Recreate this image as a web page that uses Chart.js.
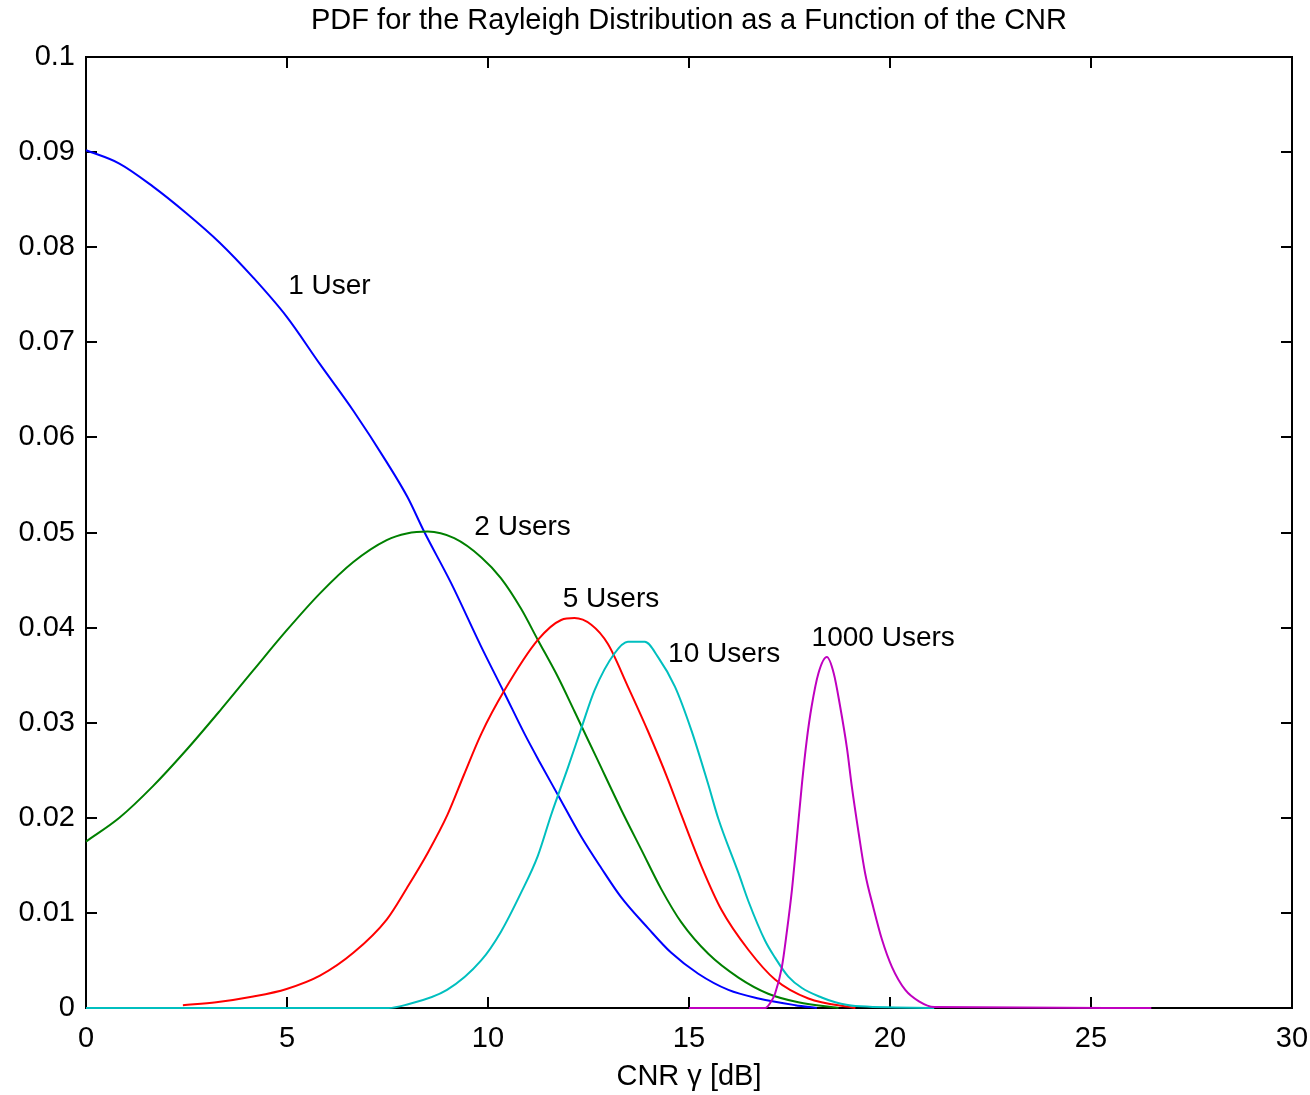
<!DOCTYPE html>
<html>
<head>
<meta charset="utf-8">
<script src="https://cdn.jsdelivr.net/npm/chart.js@4.4.1/dist/chart.umd.min.js"></script>
<style>
  html, body { margin: 0; padding: 0; background: #ffffff; }
  #wrap { width: 1310px; height: 1095px; }
</style>
</head>
<body>
<div id="wrap"><canvas id="c" width="1310" height="1095"></canvas></div>
<script>
// ---- Data ----
const titleText = 'PDF for the Rayleigh Distribution as a Function of the CNR';
const xAxisTitle = 'CNR \u03b3 [dB]';
const yTickLabels = ['0', '0.01', '0.02', '0.03', '0.04', '0.05', '0.06', '0.07', '0.08', '0.09', '0.1'];
const xTickLabels = ['0', '5', '10', '15', '20', '25', '30'];

const seriesNames = ['1 User', '2 Users', '5 Users', '10 Users', '1000 Users'];

const user1X = [0, 0.83, 1.66, 2.49, 3.32, 4.16, 4.99, 5.82, 6.65, 7.48, 8.0, 8.41, 9.08, 9.83, 10.41, 10.9, 11.28, 11.74, 12.32, 12.82, 13.32, 13.98, 14.56, 15.23, 15.98, 16.73, 17.64, 18.18];
const user1Y = [0.0902, 0.0888, 0.0864, 0.0836, 0.0805, 0.0768, 0.0727, 0.0677, 0.0628, 0.0574, 0.0537, 0.0501, 0.0447, 0.0380, 0.0331, 0.0289, 0.0259, 0.0224, 0.0180, 0.0147, 0.0116, 0.0084, 0.0058, 0.0036, 0.0019, 0.0010, 0.0003, 0.0000];

const user2X = [0, 0.83, 1.66, 2.49, 3.32, 4.16, 4.99, 5.82, 6.65, 7.48, 7.98, 8.5, 9.16, 9.83, 10.32, 10.82, 11.24, 11.74, 12.15, 12.69, 13.32, 13.82, 14.31, 14.81, 15.48, 16.23, 16.97, 17.72, 18.72];
const user2Y = [0.0175, 0.0200, 0.0233, 0.0271, 0.0312, 0.0355, 0.0397, 0.0436, 0.0469, 0.0492, 0.0499, 0.0501, 0.0494, 0.0474, 0.0452, 0.0420, 0.0387, 0.0348, 0.0312, 0.0264, 0.0208, 0.0166, 0.0125, 0.0090, 0.0057, 0.0032, 0.0015, 0.0006, 0.0000];

const user5X = [2.41, 3.24, 4.16, 4.99, 5.82, 6.65, 7.48, 7.98, 8.5, 8.99, 9.4, 9.83, 10.41, 11.24, 11.82, 12.15, 12.57, 12.98, 13.48, 13.98, 14.48, 14.81, 15.31, 15.81, 16.48, 17.14, 17.97, 19.14];
const user5Y = [0.0003, 0.0006, 0.0012, 0.0020, 0.0034, 0.0058, 0.0093, 0.0126, 0.0163, 0.0203, 0.0245, 0.0288, 0.0334, 0.0387, 0.0408, 0.0410, 0.0403, 0.0383, 0.0338, 0.0291, 0.0240, 0.0203, 0.0149, 0.0103, 0.0061, 0.0030, 0.0010, 0.0000];

const user10X = [0, 7.53, 7.93, 8.98, 9.83, 10.32, 10.82, 11.24, 11.57, 11.99, 12.32, 12.65, 13.15, 13.48, 13.9, 14.23, 14.65, 15.06, 15.48, 15.73, 16.23, 16.48, 16.89, 17.14, 17.47, 17.81, 18.3, 18.64, 19.14, 21.1];
const user10Y = [0, 0, 0.0003, 0.0019, 0.0050, 0.0080, 0.0121, 0.0160, 0.0203, 0.0253, 0.0294, 0.0334, 0.0373, 0.0385, 0.0385, 0.0369, 0.0338, 0.0292, 0.0235, 0.0199, 0.0142, 0.0112, 0.0071, 0.0053, 0.0033, 0.0021, 0.0011, 0.0006, 0.0002, 0];

const user1000X = [15.0, 16.9, 17.06, 17.14, 17.31, 17.43, 17.56, 17.68, 17.81, 17.93, 18.05, 18.22, 18.43, 18.6, 18.76, 18.93, 19.05, 19.22, 19.38, 19.59, 19.8, 20.05, 20.38, 20.72, 21.1, 26.5];
const user1000Y = [0, 0, 0.0008, 0.0015, 0.0043, 0.0079, 0.0124, 0.0177, 0.0236, 0.0282, 0.0317, 0.0352, 0.0369, 0.0352, 0.0317, 0.0273, 0.0233, 0.0184, 0.0142, 0.0105, 0.0072, 0.0043, 0.0019, 0.0007, 0.0001, 0];

// in-plot text labels (data coordinates of left edge / vertical middle)
const labelTexts = ['1 User', '2 Users', '5 Users', '10 Users', '1000 Users'];
const labelX = [5.03, 9.66, 11.86, 14.48, 18.05];
const labelY = [0.0760, 0.0507, 0.0431, 0.0373, 0.0390];

// ---- Styles ----
const FONT = '"Liberation Sans", Arial, Helvetica, sans-serif';
const colors = ['#0000ff', '#008000', '#ff0000', '#00bfbf', '#bf00bf'];

function pts(xs, ys) { return xs.map((x, i) => ({ x: x, y: ys[i] })); }
const allX = [user1X, user2X, user5X, user10X, user1000X];
const allY = [user1Y, user2Y, user5Y, user10Y, user1000Y];

const datasets = seriesNames.map((n, i) => ({
  label: n,
  data: pts(allX[i], allY[i]),
  borderColor: colors[i],
  backgroundColor: colors[i],
  borderWidth: 2,
  pointRadius: 0,
  cubicInterpolationMode: 'monotone',
  fill: false,
  clip: 6,
  order: 5 - i
}));

const boxTicks = {
  id: 'boxTicks',
  beforeDatasetsDraw(chart) {
    const ctx = chart.ctx;
    const a = chart.chartArea;
    const xs = chart.scales.x, ys = chart.scales.y;
    const L = 11;
    ctx.save();
    ctx.strokeStyle = '#000';
    ctx.lineWidth = 2;
    ctx.strokeRect(a.left, a.top, a.right - a.left, a.bottom - a.top);
    ctx.beginPath();
    xs.ticks.forEach((t, i) => {
      const p = Math.round(xs.getPixelForTick(i));
      ctx.moveTo(p, a.bottom); ctx.lineTo(p, a.bottom - L);
      ctx.moveTo(p, a.top); ctx.lineTo(p, a.top + L);
    });
    ys.ticks.forEach((t, i) => {
      const p = Math.round(ys.getPixelForTick(i));
      ctx.moveTo(a.left, p); ctx.lineTo(a.left + L, p);
      ctx.moveTo(a.right, p); ctx.lineTo(a.right - L, p);
    });
    ctx.stroke();
    ctx.restore();
  },
  afterDatasetsDraw(chart) {
    const ctx = chart.ctx;
    const xs = chart.scales.x, ys = chart.scales.y;
    ctx.save();
    ctx.fillStyle = '#000';
    ctx.font = '28px ' + FONT;
    ctx.textAlign = 'left';
    ctx.textBaseline = 'middle';
    labelTexts.forEach((t, i) => {
      ctx.fillText(t, xs.getPixelForValue(labelX[i]), ys.getPixelForValue(labelY[i]) + 1);
    });
    ctx.restore();
  }
};

new Chart(document.getElementById('c'), {
  type: 'line',
  data: { datasets: datasets },
  options: {
    responsive: false,
    devicePixelRatio: 1,
    animation: false,
    events: [],
    layout: { padding: { left: 0, right: 18, top: 0, bottom: 0 } },
    plugins: {
      legend: { display: false },
      tooltip: { enabled: false },
      title: {
        display: true,
        fullSize: false,
        text: titleText,
        color: '#000',
        font: { family: FONT, size: 29, weight: 'normal' },
        padding: { top: 4, bottom: 18.2 }
      }
    },
    scales: {
      x: {
        type: 'linear',
        min: 0, max: 30,
        grid: { display: false, drawTicks: false },
        border: { display: true, color: '#000', width: 2 },
        ticks: {
          stepSize: 5,
          color: '#000',
          padding: 14,
          font: { family: FONT, size: 29 },
          callback: (v) => xTickLabels[Math.round(v / 5)]
        },
        title: {
          display: true,
          text: xAxisTitle,
          color: '#000',
          font: { family: FONT, size: 29 },
          padding: { top: 0, bottom: 1 }
        },
        afterFit: (s) => { s.height = 87; s.paddingLeft = 0; s.paddingRight = 0; }
      },
      y: {
        type: 'linear',
        min: 0, max: 0.1,
        grid: { display: false, drawTicks: false },
        border: { display: true, color: '#000', width: 2 },
        ticks: {
          stepSize: 0.01,
          color: '#000',
          padding: 11,
          font: { family: FONT, size: 29 },
          callback: (v) => yTickLabels[Math.round(v / 0.01)]
        },
        afterFit: (s) => { s.width = 86; s.paddingTop = 0; s.paddingBottom = 0; }
      }
    }
  },
  plugins: [boxTicks]
});
</script>
</body>
</html>
